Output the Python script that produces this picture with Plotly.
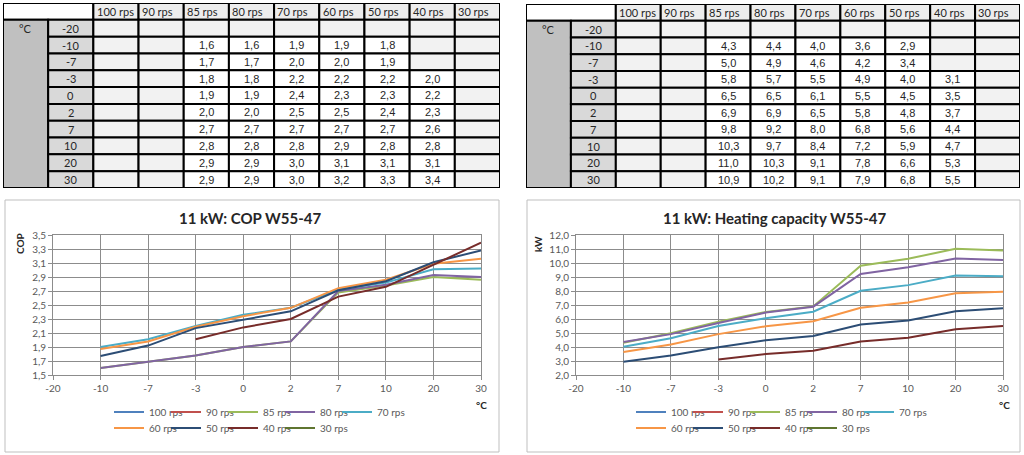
import plotly.graph_objects as go

# ---------------- data ----------------
temps = ["-20", "-10", "-7", "-3", "0", "2", "7", "10", "20", "30"]
series_names = ["100 rps", "90 rps", "85 rps", "80 rps", "70 rps",
                "60 rps", "50 rps", "40 rps", "30 rps"]
series_colors = ["#4F81BD", "#C0504D", "#9BBB59", "#8064A2", "#4BACC6",
                 "#F79646", "#2C4D75", "#772C2A", "#5F7530"]

N = None
cop_100 = [N] * 10
cop_90 = [N] * 10
cop_85 = [N, 1.60, 1.69, 1.78, 1.90, 1.98, 2.68, 2.78, 2.90, 2.86]
cop_80 = [N, 1.60, 1.69, 1.78, 1.90, 1.98, 2.70, 2.79, 2.93, 2.90]
cop_70 = [N, 1.90, 2.01, 2.20, 2.36, 2.46, 2.72, 2.82, 3.01, 3.02]
cop_60 = [N, 1.87, 1.98, 2.19, 2.34, 2.46, 2.74, 2.86, 3.09, 3.16]
cop_50 = [N, 1.77, 1.92, 2.17, 2.29, 2.41, 2.71, 2.84, 3.11, 3.28]
cop_40 = [N, N, N, 2.01, 2.18, 2.30, 2.62, 2.76, 3.07, 3.39]
cop_30 = [N] * 10

hc_100 = [N] * 10
hc_90 = [N] * 10
hc_85 = [N, 4.30, 4.98, 5.80, 6.50, 6.90, 9.80, 10.30, 11.02, 10.90]
hc_80 = [N, 4.36, 4.92, 5.72, 6.46, 6.88, 9.22, 9.70, 10.32, 10.22]
hc_70 = [N, 4.02, 4.62, 5.50, 6.06, 6.52, 8.02, 8.42, 9.10, 9.06]
hc_60 = [N, 3.64, 4.18, 4.92, 5.48, 5.84, 6.80, 7.18, 7.84, 7.94]
hc_50 = [N, 2.94, 3.40, 3.98, 4.48, 4.78, 5.60, 5.90, 6.56, 6.76]
hc_40 = [N, N, N, 3.10, 3.50, 3.74, 4.40, 4.66, 5.26, 5.50]
hc_30 = [N] * 10

cop_series = [cop_100, cop_90, cop_85, cop_80, cop_70, cop_60, cop_50, cop_40, cop_30]
hc_series = [hc_100, hc_90, hc_85, hc_80, hc_70, hc_60, hc_50, hc_40, hc_30]

cop_ticks = [1.5, 1.7, 1.9, 2.1, 2.3, 2.5, 2.7, 2.9, 3.1, 3.3, 3.5]
hc_ticks = [2, 3, 4, 5, 6, 7, 8, 9, 10, 11, 12]

W, H = 1024, 455
fig = go.Figure()

GRID = "#8C8C8C"
TICKC = "#595959"
FONT = "Lato, Open Sans, sans-serif"


def px(x):
    return x / W


def py(y):
    return 1 - y / H


# ---------------- line charts ----------------
def add_chart(series, xa, ya, legA, legB):
    for i, (name, col, vals) in enumerate(zip(series_names, series_colors, series)):
        xs = [t for t, v in zip(temps, vals) if v is not None]
        ys = [v for v in vals if v is not None]
        if not xs:
            xs, ys = [temps[0]], [None]
        fig.add_trace(go.Scatter(
            x=xs, y=ys, name=name, mode="lines",
            line=dict(color=col, width=2),
            xaxis=xa, yaxis=ya,
            legend=legA if i < 5 else legB,
            hoverinfo="skip",
        ))
    # invisible spacer entries so the last legend label of each row is not clipped
    for leg in (legA, legB):
        fig.add_trace(go.Scatter(
            x=[temps[0]], y=[None], name=" ", mode="lines",
            line=dict(color="rgba(0,0,0,0)", width=0),
            xaxis=xa, yaxis=ya, legend=leg, hoverinfo="skip",
        ))


add_chart(cop_series, "x", "y", "legend", "legend2")
add_chart(hc_series, "x2", "y2", "legend3", "legend4")

axis_common = dict(
    showgrid=True, gridcolor=GRID, gridwidth=1,
    showline=True, linecolor=GRID, linewidth=1, mirror=True,
    ticks="outside", ticklen=4, tickcolor=GRID,
    tickfont=dict(family=FONT, size=10, color=TICKC),
    zeroline=False, fixedrange=True,
)

x_common = dict(axis_common, type="category", categoryorder="array",
                categoryarray=temps, range=[0, len(temps) - 1])

plot_y = [py(375), py(235)]
fig.update_layout(
    xaxis=dict(x_common, domain=[px(53), px(481)], anchor="y"),
    yaxis=dict(axis_common, domain=plot_y, range=[1.5, 3.5], tickvals=cop_ticks,
               tickformat=".1f", anchor="x"),
    xaxis2=dict(x_common, domain=[px(576), px(1003)], anchor="y2"),
    yaxis2=dict(axis_common, domain=plot_y, range=[2, 12], tickvals=hc_ticks,
                tickformat=".1f", anchor="x2"),
)

leg_common = dict(orientation="h", bgcolor="rgba(0,0,0,0)", borderwidth=0,
                  font=dict(family=FONT, size=10, color=TICKC),
                  itemwidth=30, entrywidth=12, entrywidthmode="pixels",
                  xanchor="left", yanchor="middle", tracegroupgap=0)
fig.update_layout(
    legend=dict(leg_common, x=px(109), y=py(412)),
    legend2=dict(leg_common, x=px(109), y=py(428)),
    legend3=dict(leg_common, x=px(631), y=py(412)),
    legend4=dict(leg_common, x=px(631), y=py(428)),
)

shapes = []
annotations = []

# chart frames
for x0, x1 in [(5, 499), (527, 1020)]:
    shapes.append(dict(type="rect", xref="paper", yref="paper",
                       x0=px(x0), x1=px(x1), y0=py(452), y1=py(200),
                       line=dict(color="#BFBFBF", width=1), layer="below"))

titles = [("11 kW: COP W55-47", 250), ("11 kW: Heating capacity W55-47", 774)]
for t, cx in titles:
    annotations.append(dict(text="<b>" + t + "</b>", xref="paper", yref="paper",
                            x=px(cx), y=py(218), showarrow=False,
                            font=dict(family=FONT, size=15, color="#262626"),
                            xanchor="center", yanchor="middle"))
for t, cx in [("COP", 20), ("kW", 538)]:
    annotations.append(dict(text="<b>" + t + "</b>", xref="paper", yref="paper",
                            x=px(cx), y=py(244), showarrow=False, textangle=-90,
                            font=dict(family=FONT, size=10, color="#262626"),
                            xanchor="center", yanchor="middle"))
for cx in [481, 1004]:
    annotations.append(dict(text="<b>°C</b>", xref="paper", yref="paper",
                            x=px(cx), y=py(405), showarrow=False,
                            font=dict(family=FONT, size=10, color="#262626"),
                            xanchor="center", yanchor="middle"))


# ---------------- tables ----------------
def fmt(v):
    return ("%.1f" % v).replace(".", ",")


def add_table(series, xa, ya):
    xr, yr = xa, ya
    line = dict(color="#000000", width=2)
    # top-left blank header
    shapes.append(dict(type="rect", xref=xr, yref=yr, x0=0, x1=2, y0=0, y1=1,
                       fillcolor="#FFFFFF", line=line))
    # header cells
    for j, name in enumerate(series_names):
        shapes.append(dict(type="rect", xref=xr, yref=yr, x0=2 + j, x1=3 + j,
                           y0=0, y1=1, fillcolor="#EDEDED", line=line))
        annotations.append(dict(text=name, xref=xr, yref=yr, x=2.03 + j, y=0.5,
                                showarrow=False, xanchor="left", yanchor="middle",
                                font=dict(family=FONT, size=11, color="#262626")))
    # °C merged column
    shapes.append(dict(type="rect", xref=xr, yref=yr, x0=0, x1=1, y0=1,
                       y1=1 + len(temps), fillcolor="#C0C0C0", line=line))
    annotations.append(dict(text="°C", xref=xr, yref=yr, x=0.5, y=1.5,
                            showarrow=False, xanchor="center", yanchor="middle",
                            font=dict(family=FONT, size=11, color="#262626")))
    for r, t in enumerate(temps):
        shapes.append(dict(type="rect", xref=xr, yref=yr, x0=1, x1=2, y0=1 + r,
                           y1=2 + r, fillcolor="#D9D9D9", line=line))
        annotations.append(dict(text=t, xref=xr, yref=yr, x=1.5, y=1.5 + r,
                                showarrow=False, xanchor="center", yanchor="middle",
                                font=dict(family=FONT, size=11, color="#262626")))
        for j, vals in enumerate(series):
            v = vals[r]
            shapes.append(dict(type="rect", xref=xr, yref=yr, x0=2 + j, x1=3 + j,
                               y0=1 + r, y1=2 + r,
                               fillcolor="#FFFFFF" if v is not None else "#F2F2F2",
                               line=line))
            if v is not None:
                annotations.append(dict(text=fmt(v), xref=xr, yref=yr, x=2.5 + j,
                                        y=1.5 + r, showarrow=False,
                                        xanchor="center", yanchor="middle",
                                        font=dict(family="Liberation Sans, Arial",
                                                  size=11, color="#262626")))


add_table(cop_series, "x3", "y3")
add_table(hc_series, "x4", "y4")

ncols = 2 + len(series_names)
nrows = 1 + len(temps)
tab_ax = dict(visible=False, fixedrange=True, showgrid=False, zeroline=False)
fig.update_layout(
    xaxis3=dict(tab_ax, domain=[px(3), px(500)], range=[0, ncols], anchor="y3"),
    yaxis3=dict(tab_ax, domain=[py(188), py(3)], range=[nrows, 0], anchor="x3"),
    xaxis4=dict(tab_ax, domain=[px(526), px(1020)], range=[0, ncols], anchor="y4"),
    yaxis4=dict(tab_ax, domain=[py(188), py(4)], range=[nrows, 0], anchor="x4"),
)

fig.update_layout(
    width=W, height=H, autosize=False,
    margin=dict(l=0, r=0, t=0, b=0, autoexpand=False),
    paper_bgcolor="#FFFFFF", plot_bgcolor="#FFFFFF",
    separators=",.",
    font=dict(family=FONT),
    shapes=shapes, annotations=annotations,
    hovermode=False,
)

fig.write_html(
    "out.html",
    config=dict(displayModeBar=False),
    post_script="document.body.style.margin='0';document.body.style.overflow='hidden';",
)
